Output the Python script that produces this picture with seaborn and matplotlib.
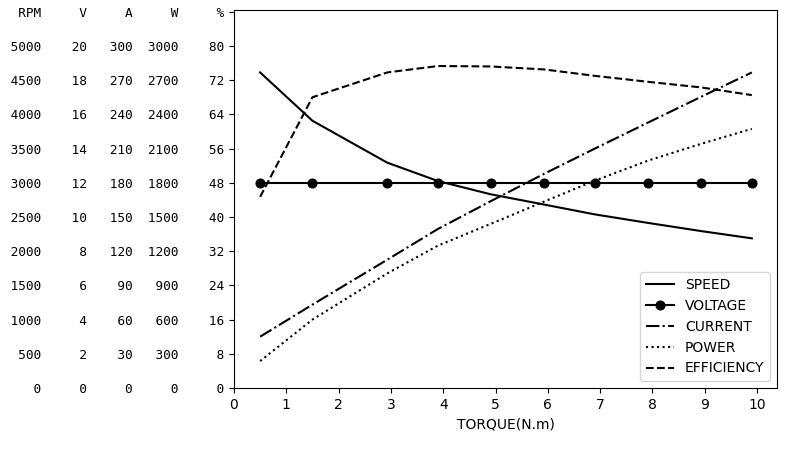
import numpy as np
import pandas as pd
import matplotlib
matplotlib.use('Agg')
import matplotlib.pyplot as plt
import seaborn as sns

# ocitane vrijednosti (na skali % osi)
torque = [0.5, 1.5, 2.93, 3.9, 4.91, 5.93, 6.9, 7.92, 8.93, 9.9]
speed = [73.8, 62.5, 52.7, 48.4, 45.3, 42.9, 40.6, 38.6, 36.7, 35.0]
voltage = [48.0, 48.0, 48.0, 48.0, 48.0, 48.0, 48.0, 48.0, 48.0, 48.0]
current = [12.0, 19.5, 30.0, 37.2, 43.7, 50.1, 56.0, 62.1, 68.1, 73.8]
power = [6.3, 16.0, 26.8, 33.3, 38.4, 43.6, 48.5, 53.2, 57.1, 60.6]
efficiency = [44.7, 68.0, 73.8, 75.3, 75.2, 74.5, 73.0, 71.6, 70.3, 68.5]

# oznake na y osi (vise skala)
pct_ticks = [0, 8, 16, 24, 32, 40, 48, 56, 64, 72, 80]
rpm_ticks = [0, 500, 1000, 1500, 2000, 2500, 3000, 3500, 4000, 4500, 5000]
v_ticks = [0, 2, 4, 6, 8, 10, 12, 14, 16, 18, 20]
a_ticks = [0, 30, 60, 90, 120, 150, 180, 210, 240, 270, 300]
w_ticks = [0, 300, 600, 900, 1200, 1500, 1800, 2100, 2400, 2700, 3000]
header = ['RPM', 'V', 'A', 'W', '%']

df = pd.DataFrame({'torque': torque, 'speed': speed, 'voltage': voltage,
                   'current': current, 'power': power, 'efficiency': efficiency})

fig = plt.figure(figsize=(8.11, 4.51), dpi=100)
ax = fig.add_axes([0.2885, 0.1397, 0.6695, 0.8381])

sns.lineplot(data=df, x='torque', y='speed', color='k', lw=1.5, ls='-', label='SPEED', ax=ax)
sns.lineplot(data=df, x='torque', y='voltage', color='k', lw=1.5, ls='-', marker='o',
             markersize=6.5, markeredgecolor='k', label='VOLTAGE', ax=ax)
sns.lineplot(data=df, x='torque', y='current', color='k', lw=1.5, ls='-.', label='CURRENT', ax=ax)
sns.lineplot(data=df, x='torque', y='power', color='k', lw=1.5, ls=':', label='POWER', ax=ax)
sns.lineplot(data=df, x='torque', y='efficiency', color='k', lw=1.5, ls='--', label='EFFICIENCY', ax=ax)

ax.set_xlim(0, 10.38)
ax.set_ylim(0, 88.4)
ax.set_xticks(range(11))

labels = []
for i in range(len(pct_ticks)):
    labels.append(f'{rpm_ticks[i]:>5}{v_ticks[i]:>6}{a_ticks[i]:>6}{w_ticks[i]:>6}{pct_ticks[i]:>6}')
labels.append(f'{header[0]:>5}{header[1]:>6}{header[2]:>6}{header[3]:>6}{header[4]:>6}')
ax.set_yticks(pct_ticks + [88])
ax.set_yticklabels(labels)
for lbl in ax.get_yticklabels():
    lbl.set_fontfamily('DejaVu Sans Mono')
    lbl.set_fontsize(9.2)

ax.set_xlabel('TORQUE(N.m)', fontsize=10)
ax.set_ylabel('')
ax.legend(loc='lower right', fontsize=10)

fig.savefig('out.png', dpi=100)
